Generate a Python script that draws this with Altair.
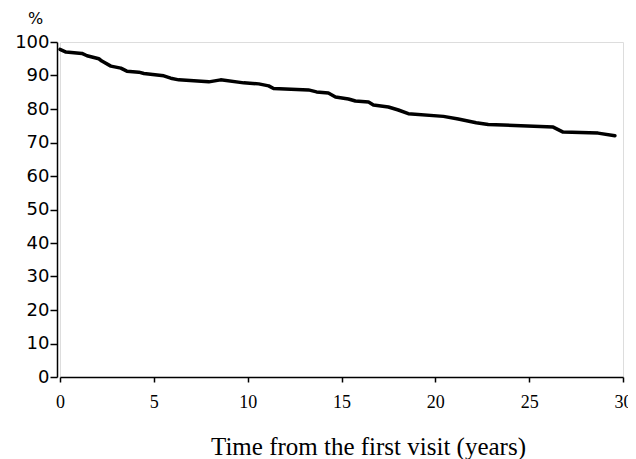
import altair as alt
import pandas as pd

# Time from the first visit (years) and survival (%)
years = [0.0, 0.32, 1.17, 1.44, 2.07, 2.23, 2.71, 3.24, 3.56, 4.2, 4.47, 5.53,
         5.9, 6.33, 7.93, 8.56, 9.79, 10.59, 11.12, 11.38, 13.24, 13.67, 14.3,
         14.68, 15.37, 15.74, 16.44, 16.7, 17.5, 18.03, 18.56, 20.43, 21.22,
         22.18, 22.82, 23.62, 26.28, 26.81, 28.67, 29.57]
survival = [97.8, 97.0, 96.6, 95.9, 95.0, 94.3, 92.8, 92.2, 91.3, 91.0, 90.6, 89.9,
            89.2, 88.7, 88.1, 88.7, 87.8, 87.5, 86.9, 86.1, 85.7, 85.1, 84.8,
            83.6, 83.0, 82.4, 82.1, 81.2, 80.6, 79.7, 78.6, 77.8, 77.0,
            75.9, 75.4, 75.2, 74.6, 73.1, 72.8, 72.0]

x_ticks = [0, 5, 10, 15, 20, 25, 30]
y_ticks = [0, 10, 20, 30, 40, 50, 60, 70, 80, 90, 100]

df = pd.DataFrame({"t": years, "s": survival})

chart = alt.Chart(df).mark_line(
    color="black", strokeWidth=3.5, strokeJoin="round", strokeCap="round"
).encode(
    x=alt.X(
        "t:Q",
        scale=alt.Scale(domain=[0, 30], nice=False, zero=False),
        axis=alt.Axis(
            values=x_ticks, grid=False, title="Time from the first visit (years)",
            domainColor="black", domainWidth=1.5, tickColor="black", tickWidth=1.5,
            tickSize=5, labelFont="Liberation Serif", labelFontSize=18,
            labelColor="black", labelPadding=11, labelFlush=False,
            titleFont="Liberation Serif", titleFontSize=25, titleFontWeight="normal",
            titleColor="black", titleX=308, titleY=69, titleAlign="center",
            titleBaseline="middle",
        ),
    ),
    y=alt.Y(
        "s:Q",
        scale=alt.Scale(domain=[0, 100], nice=False),
        axis=alt.Axis(
            values=y_ticks, grid=False, title="%", offset=3,
            domainColor="black", domainWidth=1.5, tickColor="black", tickWidth=1.5,
            tickSize=7, labelFont="DejaVu Sans", labelFontSize=18,
            labelColor="black", labelPadding=1, labelFlush=False,
            titleFont="DejaVu Sans", titleFontSize=16, titleFontWeight="normal",
            titleColor="black", titleAngle=0, titleX=-22, titleY=-24,
            titleAlign="center", titleBaseline="middle",
        ),
    ),
).properties(
    width=563,
    height=335,
    padding={"left": 52, "top": 34, "right": 5, "bottom": 84},
    autosize="none",
).configure_view(stroke=None).configure(background="white")

chart.save("out.html", embed_options={"renderer": "svg", "actions": False})
